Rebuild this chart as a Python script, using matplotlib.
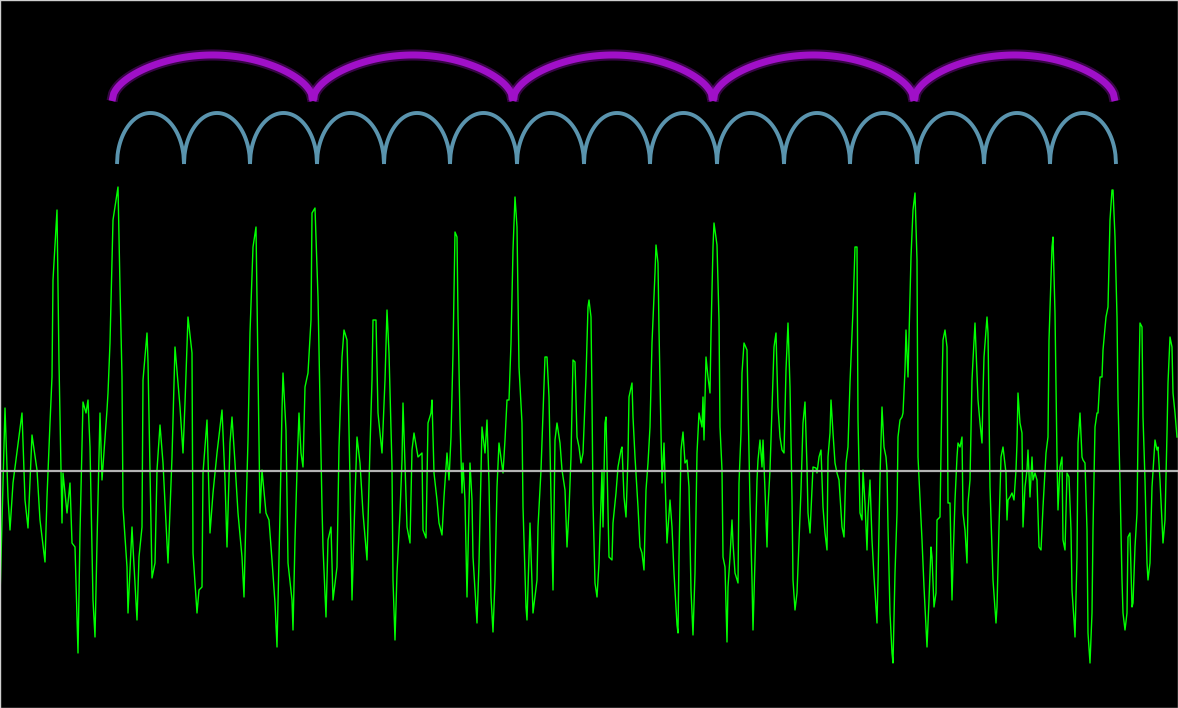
import numpy as np
import matplotlib.pyplot as plt

# waveform: sample position and amplitude (extrema only)
sample_pos = [
    0, 5, 8, 10, 13, 22, 25, 28, 32, 37, 40, 45, 47, 50, 52, 53, 57, 59, 62, 63,
    67, 70, 72, 75, 78, 80, 83, 86, 88, 90, 93, 95, 97, 100, 102, 107, 108, 110, 113, 117,
    118, 120, 122, 123, 127, 128, 132, 133, 137, 139, 142, 143, 147, 148, 152, 155, 157, 160, 163, 168,
    172, 175, 180, 183, 185, 188, 192, 193, 197, 199, 202, 203, 207, 208, 210, 213, 217, 222, 225, 227,
    230, 232, 235, 238, 242, 244, 246, 248, 250, 253, 256, 258, 260, 262, 266, 269, 272, 275, 277, 280,
    282, 283, 286, 288, 292, 293, 295, 297, 299, 301, 303, 305, 308, 311, 312, 315, 318, 320, 322, 323,
    326, 328, 331, 333, 337, 339, 342, 344, 347, 348, 350, 352, 355, 357, 360, 363, 367, 370, 372, 373,
    376, 378, 382, 385, 387, 389, 392, 393, 395, 397, 400, 402, 403, 407, 410, 412, 414, 418, 422, 423,
    426, 428, 431, 432, 434, 437, 439, 442, 444, 447, 449, 451, 453, 455, 457, 458, 460, 462, 463, 465,
    467, 470, 472, 473, 477, 479, 482, 485, 487, 489, 491, 493, 495, 497, 499, 503, 505, 507, 509, 511,
    513, 515, 517, 519, 522, 523, 526, 527, 530, 533, 537, 538, 541, 543, 545, 547, 549, 552, 553, 555,
    557, 560, 562, 565, 567, 569, 571, 573, 575, 577, 579, 581, 583, 586, 588, 589, 591, 592, 593, 595,
    597, 599, 602, 603, 605, 606, 607, 609, 612, 613, 616, 618, 621, 622, 624, 626, 628, 629, 632, 633,
    635, 638, 640, 642, 644, 646, 648, 650, 652, 655, 656, 658, 659, 661, 662, 664, 667, 670, 672, 674,
    677, 678, 679, 681, 683, 685, 687, 689, 691, 693, 695, 697, 699, 702, 703, 704, 706, 708, 710, 711,
    713, 714, 717, 719, 720, 722, 723, 725, 727, 728, 730, 732, 733, 735, 738, 739, 741, 742, 744, 747,
    748, 750, 752, 753, 755, 757, 758, 760, 762, 763, 765, 767, 768, 770, 772, 774, 776, 778, 780, 782,
    784, 786, 788, 790, 792, 793, 795, 797, 798, 801, 803, 805, 807, 808, 810, 813, 816, 817, 819, 821,
    823, 825, 827, 828, 830, 831, 833, 835, 837, 839, 842, 844, 846, 848, 850, 853, 855, 857, 858, 860,
    862, 863, 865, 867, 868, 870, 872, 874, 877, 878, 880, 882, 884, 886, 887, 888, 890, 892, 893, 895,
    897, 898, 900, 902, 903, 905, 906, 908, 911, 913, 915, 917, 918, 922, 924, 926, 927, 929, 931, 932,
    934, 936, 937, 940, 942, 943, 945, 947, 948, 950, 952, 953, 955, 957, 958, 960, 962, 963, 965, 967,
    968, 970, 972, 973, 975, 978, 980, 982, 983, 984, 987, 988, 990, 992, 993, 996, 997, 999, 1001, 1003,
    1006, 1007, 1008, 1010, 1012, 1014, 1016, 1017, 1018, 1020, 1022, 1023, 1025, 1027, 1028, 1030, 1032, 1033, 1035, 1037,
    1039, 1041, 1043, 1046, 1048, 1049, 1052, 1053, 1055, 1057, 1058, 1060, 1062, 1063, 1065, 1067, 1069, 1071, 1072, 1074,
    1075, 1077, 1078, 1080, 1082, 1083, 1085, 1087, 1088, 1090, 1092, 1093, 1095, 1097, 1098, 1100, 1102, 1103, 1106, 1108,
    1110, 1112, 1113, 1115, 1117, 1118, 1120, 1122, 1123, 1125, 1127, 1128, 1130, 1132, 1133, 1135, 1137, 1138, 1140, 1142,
    1143, 1145, 1147, 1148, 1150, 1152, 1155, 1157, 1158, 1160, 1163, 1165, 1167, 1168, 1170, 1172, 1173, 1175, 1177,
]
amplitude = [
    -126, 63, -26, -59, -12, 58, -29, -57, 36, 1, -49, -91, -26, 48, 94, 191, 261, 108, -52, -2,
    -42, -12, -72, -76, -182, -62, 69, 58, 71, 24, -129, -166, -72, 58, -9, 61, 78, 128, 251, 278,
    284, 184, 94, -36, -96, -142, -56, -76, -149, -86, -56, 91, 138, 109, -107, -92, 1, 46, 8, -92,
    14, 124, 64, 18, 68, 154, 118, -82, -142, -119, -116, -2, 51, 14, -62, -22, 18, 61, -9, -76,
    28, 54, 8, -42, -86, -126, -42, 31, 138, 224, 244, 104, -42, 1, -42, -49, -89, -132, -176, -42,
    61, 98, 41, -92, -129, -159, -69, 1, 58, 18, 4, 84, 98, 151, 258, 263, 174, 68, -36, -76,
    -146, -69, -56, -129, -96, 24, 114, 141, 131, 91, -9, -129, -26, 34, 8, -42, -89, 24, 91, 151,
    151, 58, 18, 91, 161, 118, 4, -109, -169, -102, -42, 11, 68, -56, -72, 21, 38, 14, 18, -59,
    -67, 48, 58, 71, -2, -29, -52, -64, -26, 18, -9, 34, 118, 239, 234, 154, 51, -22, 8, -29,
    -126, 8, -29, -86, -152, -92, 44, 18, 51, -12, -126, -161, -109, -16, 28, -2, 31, 71, 71, 128,
    221, 274, 244, 104, 48, -36, -136, -149, -52, -142, -109, -56, 1, 58, 114, 114, 74, -76, -119, 31,
    48, 28, 1, -19, -76, -39, 14, 111, 109, 34, 24, 8, 18, 94, 164, 171, 154, 71, -32, -112,
    -126, -92, 1, -56, 48, 54, 8, -86, -89, -52, -22, 4, 21, 24, -26, -46, 14, 74, 88, 54,
    14, -36, -76, -82, -99, -19, 8, 44, 128, 198, 226, 208, 141, 38, -12, 28, -72, -29, -56, -102,
    -154, -162, -86, 21, 39, 8, 11, -16, -119, -164, -102, 18, 58, 44, 74, 31, 114, 94, 78, 138,
    224, 248, 226, 151, 44, 1, -86, -96, -171, -116, -86, -49, -72, -102, -112, -12, 38, 98, 128, 121,
    71, -32, -109, -159, -89, -9, 11, 31, 4, 31, -19, -76, -36, 1, 61, 124, 138, 64, 34, 21,
    18, 101, 148, 84, -26, -109, -139, -122, -96, -19, 48, 69, 4, -42, -62, 4, 3, -2, 14, 21,
    -36, -62, -79, 14, 38, 71, 38, 8, -2, -9, -56, -66, 8, 24, 88, 161, 224, 224, 51, -42,
    -49, 1, -32, -79, -42, -9, -69, -106, -152, -109, -6, 64, 24, 14, 1, -56, -142, -182, -192, -102,
    -42, 34, 51, 54, 58, 101, 141, 94, 214, 261, 278, 211, 14, -69, -116, -156, -176, -129, -76, -86,
    -136, -122, -49, -46, 84, 131, 141, 124, -32, -32, -129, -92, -29, 14, 28, 24, 34, -42, -59, -92,
    -32, -9, 91, 111, 148, 71, 48, 28, 78, 114, 154, 138, -16, -76, -109, -152, -136, -56, 14, 24,
    -2, -49, -29, -26, -22, -29, 1, 28, 78, 48, 38, -56, -16, 1, 21, -26, 14, -9, -2, -9,
    -76, -79, -36, 18, 34, 131, 224, 234, 158, 14, -39, 4, 14, -69, -79, -2, -6, -59, -119, -149,
    -166, -86, 28, 58, 14, 11, 8, -59, -162, -192, -142, -59, 44, 58, 58, 94, 94, 121, 154, 164,
    251, 281, 281, 234, 154, 71, -12, -109, -142, -159, -142, -66, -62, -136, -132, -76, -42, 34, 148, 144,
    54, -9, -92, -109, -92, -16, 31, 21, 24, -9, -72, -49, 38, 88, 134, 124, 78, 58, 34,
]

# bar and beat positions (same sample axis)
bar_pos = [112, 313, 513, 713, 914, 1115]
beat_pos = [117, 184, 250, 317, 384, 450, 517, 584, 650, 717, 784, 850, 917, 984, 1050, 1116]

fig = plt.figure(figsize=(11.78, 7.08), dpi=100, facecolor="black")
ax = fig.add_axes([0, 0, 1, 1])
ax.set_facecolor("black")

ax.plot(sample_pos, amplitude, color="#00ff00", linewidth=1.0)
ax.axhline(0, color="#b4b4b4", linewidth=1.6)

# arcs over bars (purple) and beats (blue)
u = np.linspace(0, 1, 120)
for a, b in zip(bar_pos[:-1], bar_pos[1:]):
    xs = a + (b - a) * u
    ys = 370 + 46 * np.sin(np.pi * u) ** 0.5
    ax.plot(xs, ys, color="#a010c8", linewidth=8, alpha=0.35, solid_capstyle="butt")
    ax.plot(xs, ys, color="#a010c8", linewidth=5, solid_capstyle="butt")
for a, b in zip(beat_pos[:-1], beat_pos[1:]):
    xs = a + (b - a) * u
    ys = 307 + 51 * np.sqrt(np.clip(1 - (2 * u - 1) ** 2, 0, 1))
    ax.plot(xs, ys, color="#5a94ae", linewidth=2.8, solid_capstyle="butt")

ax.set_xlim(0, 1178)
ax.set_ylim(-237, 471)
ax.set_xticks([])
ax.set_yticks([])
for s in ax.spines.values():
    s.set_color("#cfcfcf")
    s.set_linewidth(1)

plt.savefig("out.png", dpi=100, facecolor="black")
